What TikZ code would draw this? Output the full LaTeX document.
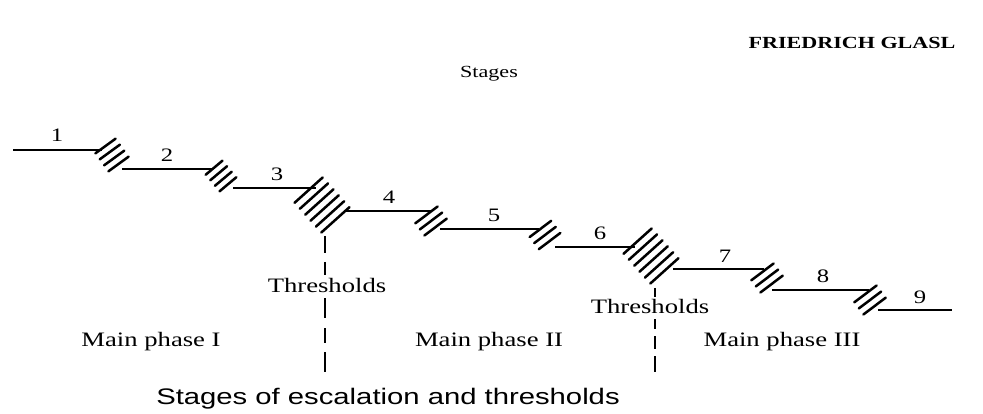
\documentclass[tikz,border=0pt]{standalone}
\usepackage{graphicx}
\usepackage{fontspec}
\setmainfont{Liberation Serif}
\newfontfamily\capfont{Liberation Sans}
\newcommand\wide[1]{\scalebox{1.3}[1]{#1}}
\newcommand\hatchmark[6]{%
  \foreach \k in {1,...,#3}{%
    \pgfmathsetmacro\oo{(\k-1-(#3-1)/2)*#6}%
    \pgfmathsetmacro\ax{#1+\oo*sin(#5)-#4/2*cos(#5)}%
    \pgfmathsetmacro\ay{#2+\oo*cos(#5)+#4/2*sin(#5)}%
    \pgfmathsetmacro\bx{#1+\oo*sin(#5)+#4/2*cos(#5)}%
    \pgfmathsetmacro\by{#2+\oo*cos(#5)-#4/2*sin(#5)}%
    \draw[hatch] (\ax,\ay) -- (\bx,\by);
  }}
\begin{document}
\begin{tikzpicture}[x=1pt,y=-1pt,
  stair/.style={line width=2.5pt},
  hatch/.style={line width=2.5pt,line cap=round},
  thr/.style={line width=2.7pt},
  lbl/.style={font=\fontsize{20.5}{24}\selectfont,anchor=base,inner sep=0pt},
  num/.style={font=\fontsize{19}{22}\selectfont,anchor=base,inner sep=0pt}]
\useasboundingbox[fill=white] (0,0) rectangle (983,414);

% stair coordinates
\coordinate (a1) at (13,150);  \coordinate (b1) at (102,150);
\coordinate (a2) at (122,169); \coordinate (b2) at (213,169);
\coordinate (a3) at (233,188); \coordinate (b3) at (316,188);
\coordinate (a4) at (345,211); \coordinate (b4) at (431,211);
\coordinate (a5) at (440,229); \coordinate (b5) at (539,229);
\coordinate (a6) at (555,247); \coordinate (b6) at (635,247);
\coordinate (a7) at (673,269); \coordinate (b7) at (764,269);
\coordinate (a8) at (772,290); \coordinate (b8) at (869,290);
\coordinate (a9) at (878,310); \coordinate (b9) at (952,310);
\foreach \i in {1,...,9}{\draw[stair] (a\i) -- (b\i);}

% hatches (thresholds between stages)
\hatchmark{112}{155}{4}{25}{36}{7.4}
\hatchmark{221}{176}{4}{22}{40}{7.2}
\hatchmark{322}{205}{6}{38}{42}{8}
\hatchmark{431}{221}{3}{28}{37}{7.6}
\hatchmark{545}{235}{3}{27}{37}{7.6}
\hatchmark{651}{256}{6}{38}{42}{8}
\hatchmark{767}{278}{3}{28}{37}{7.6}
\hatchmark{870}{300}{3}{28}{37}{7.6}

% stage numbers
\node[num] (n1) at (57,142) {\wide{1}};
\node[num] (n2) at (167,162) {\wide{2}};
\node[num] (n3) at (277,181) {\wide{3}};
\node[num] (n4) at (389,204) {\wide{4}};
\node[num] (n5) at (494,222) {\wide{5}};
\node[num] (n6) at (600,240) {\wide{6}};
\node[num] (n7) at (725,262) {\wide{7}};
\node[num] (n8) at (823,283) {\wide{8}};
\node[num] (n9) at (920,303) {\wide{9}};

% threshold dashed lines
\draw[thr] (325,236) -- (325,253);
\draw[thr] (325,262) -- (325,275);
\draw[thr] (325,298) -- (325,318);
\draw[thr] (325,328) -- (325,343);
\draw[thr] (325,352) -- (325,372);
\draw[thr] (655,288) -- (655,297);
\draw[thr] (655,319) -- (655,329);
\draw[thr] (655,336) -- (655,349);
\draw[thr] (655,356) -- (655,372);

% texts
\node[anchor=base,inner sep=0pt] (author) at (852,49)
  {\bfseries\fontsize{17}{20}\selectfont\wide{FRIEDRICH GLASL}};
\node[anchor=base,inner sep=0pt] (stages) at (489,78)
  {\fontsize{17}{20}\selectfont\wide{Stages}};
\node[lbl] (th1) at (327,293) {\wide{Thresholds}};
\node[lbl] (th2) at (650,313) {\wide{Thresholds}};
\node[lbl] (mp1) at (151,346) {\wide{Main phase I}};
\node[lbl] (mp2) at (489,346) {\wide{Main phase II}};
\node[lbl] (mp3) at (782,346) {\wide{Main phase III}};
\node[anchor=base,inner sep=0pt] (cap) at (388,404)
  {\capfont\fontsize{22.5}{26}\selectfont\wide{Stages of escalation and thresholds}};
\end{tikzpicture}
\end{document}
